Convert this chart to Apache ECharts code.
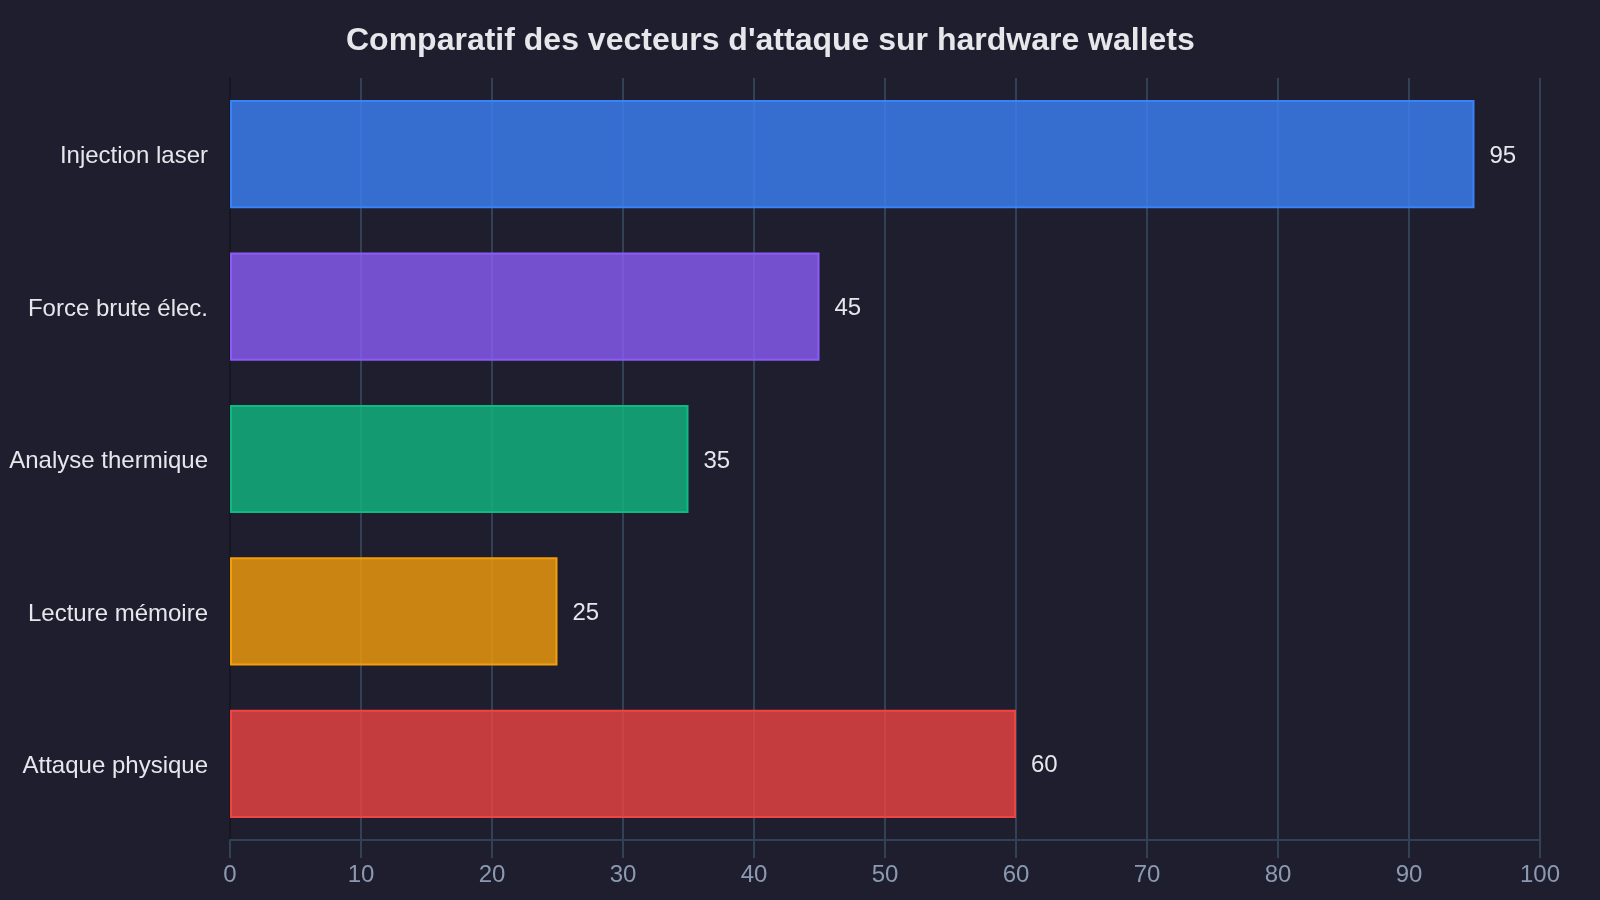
<!DOCTYPE html>
<html><head><meta charset="utf-8">
<script src="https://cdn.jsdelivr.net/npm/echarts@6/dist/echarts.min.js"></script>
<style>html,body{margin:0;padding:0;background:#1e1e2e;}#c{width:1600px;height:900px;}</style>
</head><body><div id="c"></div>
<script>
const categories = ['Injection laser', 'Force brute élec.', 'Analyse thermique', 'Lecture mémoire', 'Attaque physique'];
const values = [95, 45, 35, 25, 60];
const barColors = ['#3b82f6', '#8b5cf6', '#10b981', '#f59e0b', '#ef4444'];
const xTicks = [0, 10, 20, 30, 40, 50, 60, 70, 80, 90, 100];

const chart = echarts.init(document.getElementById('c'));
chart.setOption({
  backgroundColor: '#1e1e2e',
  animation: false,
  textStyle: { fontFamily: 'Liberation Sans, Arial, sans-serif' },
  title: {
    text: "Comparatif des vecteurs d'attaque sur hardware wallets",
    left: 341, top: 20,
    textStyle: { color: '#e5e7eb', fontSize: 32, fontWeight: 'bold', fontFamily: 'Liberation Sans, Arial, sans-serif' }
  },
  grid: { left: 230, right: 60, top: 78, bottom: 60, containLabel: false },
  xAxis: {
    type: 'value', min: xTicks[0], max: xTicks[xTicks.length - 1], interval: 10,
    axisLine: { show: true, lineStyle: { color: '#334155', width: 2 } },
    axisTick: { show: true, length: 18, lineStyle: { color: '#334155', width: 2 } },
    axisLabel: { color: '#8b9ab0', fontSize: 24, margin: 23 },
    splitLine: { show: true, lineStyle: { color: '#334155', width: 2 } }
  },
  yAxis: {
    type: 'category', inverse: true, data: categories,
    axisLine: { show: true, lineStyle: { color: '#17171f', width: 2 } },
    axisTick: { show: false },
    axisLabel: {
      color: '#e5e7eb', fontSize: 24, margin: 22,
      formatter: '{a|{value}}',
      rich: { a: { color: '#e5e7eb', fontSize: 24, padding: [5, 0, 0, 0] } }
    },
    splitLine: { show: false }
  },
  series: [{
    type: 'bar',
    barCategoryGap: '29%',
    data: values.map((v, i) => ({
      value: v,
      itemStyle: { color: echarts.color.modifyAlpha(barColors[i], 0.8), borderColor: barColors[i], borderWidth: 2 }
    })),
    label: { show: true, position: 'right', distance: 15, offset: [0, 2], color: '#e5e7eb', fontSize: 24 }
  }]
});
</script></body></html>
